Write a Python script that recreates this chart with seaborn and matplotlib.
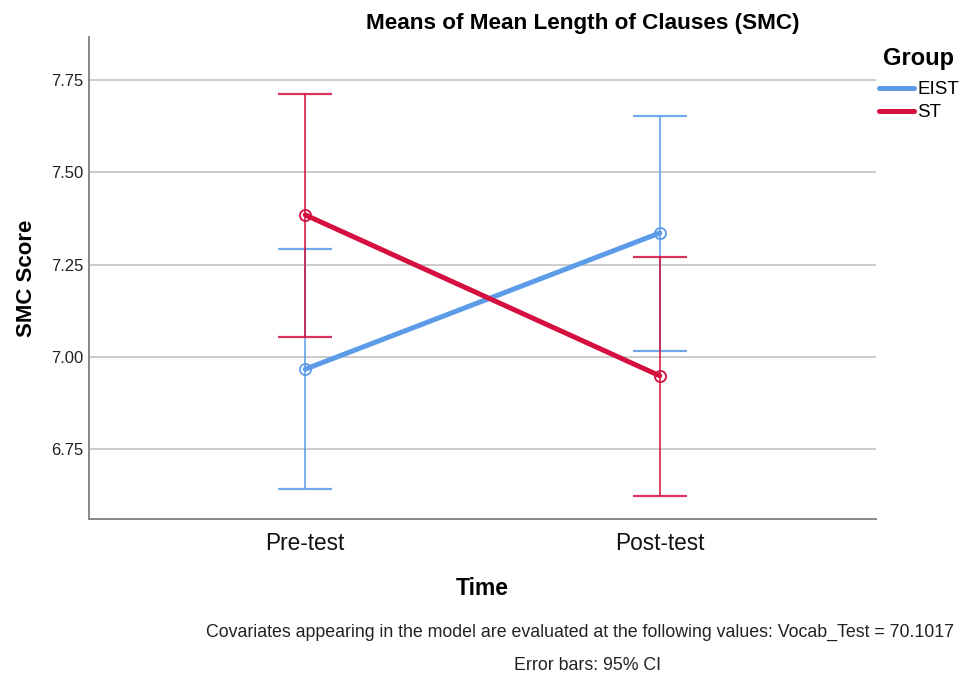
import matplotlib
matplotlib.use("Agg")
import matplotlib.pyplot as plt
import seaborn as sns
import pandas as pd
import numpy as np

# Data
times = ["Pre-test", "Post-test"]
groups = ["EIST", "ST"]
eist_mean = [6.967, 7.336]
eist_lo = [6.642, 7.016]
eist_hi = [7.293, 7.653]
st_mean = [7.385, 6.949]
st_lo = [7.054, 6.623]
st_hi = [7.713, 7.271]
yticks = [6.75, 7.00, 7.25, 7.50, 7.75]

colors = {"EIST": "#5B9BE8", "ST": "#D5103F"}

df = pd.DataFrame({
    "Time": times * 2,
    "Group": ["EIST"] * 2 + ["ST"] * 2,
    "Mean": eist_mean + st_mean,
    "Lo": eist_lo + st_lo,
    "Hi": eist_hi + st_hi,
})

sns.set_style("white")
plt.rcParams["font.family"] = ["Arial", "Liberation Sans", "DejaVu Sans"]

fig = plt.figure(figsize=(9.61, 6.76), dpi=100)
W, H = 961, 676
ax = fig.add_axes([89 / W, 1 - 519 / H, (876 - 89) / W, (519 - 37) / H])

# error bars
for g in groups:
    sub = df[df.Group == g]
    xs = np.arange(len(sub))
    m = sub.Mean.to_numpy()
    lo = sub.Lo.to_numpy()
    hi = sub.Hi.to_numpy()
    cont = ax.errorbar(xs, m, yerr=[m - lo, hi - m],
                       fmt="none", ecolor=colors[g], elinewidth=1.4, capsize=19.5,
                       capthick=1.6, zorder=3)
    _, caps, bars = cont.lines
    for c in caps:
        c.set_color(colors[g])
        c.set_markeredgecolor(colors[g])
        c.set_alpha(0.85)
    for b in bars:
        b.set_color(colors[g])
        b.set_alpha(0.8)

sns.lineplot(data=df, x="Time", y="Mean", hue="Group", palette=colors,
             linewidth=3.6, marker="o", markersize=8, markerfacecolor="none",
             markeredgewidth=1.3, ax=ax, zorder=4, sort=False)
for line in ax.lines:
    c = line.get_color()
    line.set_markeredgecolor(c)

ax.set_xlim(-0.61, 1.61)
ax.set_ylim(6.561, 7.867)
ax.set_yticks(yticks)
ax.set_yticklabels([f"{v:.2f}" for v in yticks], fontsize=12, color="#222222")
ax.set_xticks([0, 1])
ax.set_xticklabels(times, fontsize=16.3, color="#111111")
ax.tick_params(axis="y", length=0, pad=4)
ax.tick_params(axis="x", length=0, pad=9)
ax.yaxis.grid(True, color="#cccccc", linewidth=1.4)
ax.xaxis.grid(False)
for s in ["top", "right"]:
    ax.spines[s].set_visible(False)
for s in ["left", "bottom"]:
    ax.spines[s].set_color("#888888")
    ax.spines[s].set_linewidth(1.4)

ax.set_xlabel("Time", fontsize=16.5, fontweight="bold", labelpad=16, color="black")
ax.set_ylabel("SMC Score", fontsize=16, fontweight="bold", labelpad=10, color="black")

fig.text(583 / W, 1 - 23 / H, "Means of Mean Length of Clauses (SMC)",
         ha="center", va="center", fontsize=16.2, fontweight="bold", color="black")

leg = ax.legend(loc="upper left",
                bbox_to_anchor=(879 / W, 1 - 81 / H), bbox_transform=fig.transFigure,
                frameon=False, fontsize=13.5, handlelength=1.85, handletextpad=0.2,
                labelspacing=0.32, borderaxespad=0, borderpad=0)
for t in leg.get_texts():
    t.set_color("black")
for h in leg.legend_handles:
    h.set_marker("")
    h.set_linewidth(3.6)
fig.text(918 / W, 1 - 58 / H, "Group", ha="center", va="center",
         fontsize=17, fontweight="bold", color="black")

fig.text(580 / W, 1 - 632 / H,
         "Covariates appearing in the model are evaluated at the following values: Vocab_Test = 70.1017",
         ha="center", va="center", fontsize=12.8, color="#222222")
fig.text(587 / W, 1 - 666 / H, "Error bars: 95% CI",
         ha="center", va="center", fontsize=12.8, color="#222222")

fig.savefig("out.png", dpi=100)
